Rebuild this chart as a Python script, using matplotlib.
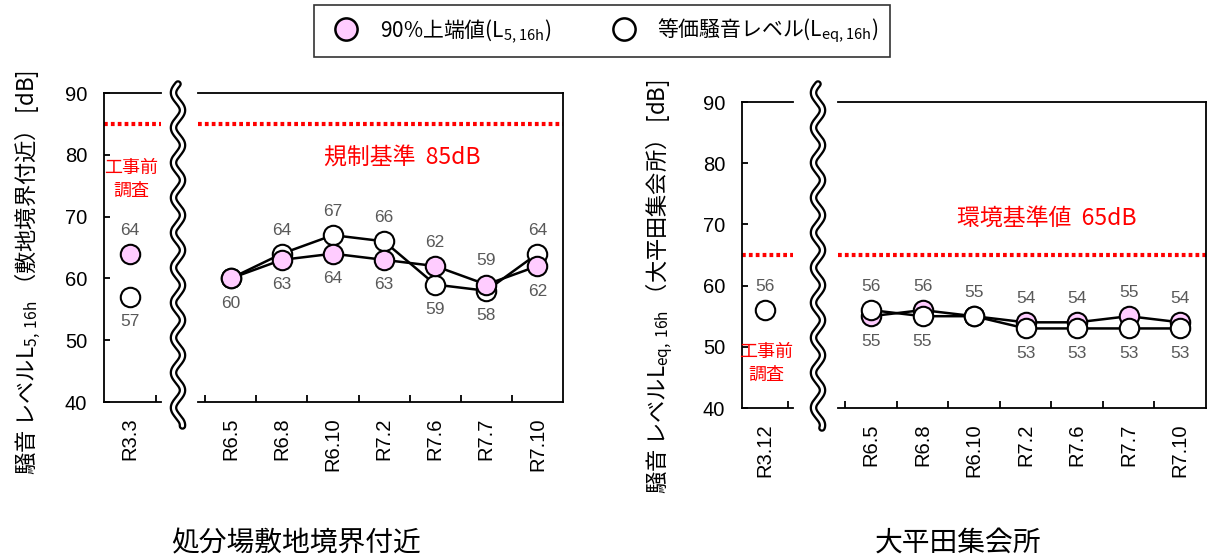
import matplotlib.pyplot as plt
import numpy as np
from matplotlib.lines import Line2D

plt.rcParams['font.family'] = ['Liberation Sans', 'Noto Sans CJK JP']

# データ
months = ['R6.5', 'R6.8', 'R6.10', 'R7.2', 'R7.6', 'R7.7', 'R7.10']
# 処分場敷地境界付近
a_pre = 'R3.3'
a_pre_l5 = 64
a_pre_leq = 57
a_l5 = [60, 63, 64, 63, 62, 59, 62]
a_leq = [60, 64, 67, 66, 59, 58, 64]
# 大平田集会所
b_pre = 'R3.12'
b_pre_l5 = None
b_pre_leq = 56
b_l5 = [55, 56, 55, 54, 54, 55, 54]
b_leq = [56, 55, 55, 53, 53, 53, 53]

W, H = 1208, 559
fig = plt.figure(figsize=(W/100, H/100), dpi=100)
JP = ['Noto Sans CJK JP']

def fx(px):
    return np.asarray(px)/W

def fy(py):
    return 1 - np.asarray(py)/H

PINK = '#ffccff'
GRAY = '#595959'
RED = '#ff0000'

def style_axis(ax):
    ax.set_ylim(40, 90)
    for s in ax.spines.values():
        s.set_linewidth(1.3)
    ax.tick_params(axis='both', direction='in', length=4, width=1.3, labelsize=14.5)
    ax.tick_params(axis='x', which='major', length=0, pad=11)
    ax.tick_params(axis='y', pad=12)
    ax.tick_params(axis='x', which='minor', direction='in', length=5, width=1.3)

def lab(ax, x, y, v, off):
    ax.annotate(str(v), (x, y), xytext=(0, off), textcoords='offset points',
                ha='center', va='center', fontsize=12.5, color=GRAY)

def add_labels(ax, xs, l5, leq, tie_above):
    for x, a, b in zip(xs, l5, leq):
        if a is None:
            lab(ax, x, b, b, 17)
        elif a == b:
            lab(ax, x, a, a, 17 if tie_above else -18)
        else:
            hi, lo = max(a, b), min(a, b)
            lab(ax, x, hi, hi, 17)
            lab(ax, x, lo, lo, -18)

def draw_series(ax, xs, vals, color, z, line=True):
    ax.plot(xs, vals, color='black', lw=1.8, marker='o', ms=14, mfc=color,
            mec='black', mew=1.5, zorder=z, clip_on=False,
            linestyle='-' if line else 'none')

def panel(small_box, main_box, pre, pre_l5, pre_leq, l5, leq, limit,
          limit_text, text_pos, pre_text_y, white_on_top, tie_above):
    axs = fig.add_axes(small_box)
    axm = fig.add_axes(main_box)
    for ax in (axs, axm):
        style_axis(ax)
        ax.axhline(limit, color=RED, lw=3, linestyle=(0, (0.9, 0.75)), zorder=1)
    # 工事前調査
    axs.set_xlim(-0.5, 0.6)
    axs.spines['right'].set_visible(False)
    axs.set_xticks([0], [pre], rotation=90)
    axs.set_xticks([0.5], minor=True)
    axs.set_yticks(range(40, 91, 10))
    zl5, zleq = (3, 4) if white_on_top else (4, 3)
    if pre_l5 is not None:
        draw_series(axs, [0], [pre_l5], PINK, zl5, line=False)
    draw_series(axs, [0], [pre_leq], 'white', zleq, line=False)
    add_labels(axs, [0], [pre_l5], [pre_leq], True)
    axs.text(0.02, pre_text_y, '工事前\n調査', color=RED, fontsize=13, ha='center',
             va='center', linespacing=1.3, family=JP)
    # 工事中
    xs = np.arange(len(months))
    axm.set_xlim(-0.64, 6.5)
    axm.spines['left'].set_visible(False)
    axm.set_yticks([])
    axm.set_xticks(xs, months, rotation=90)
    axm.set_xticks(np.arange(-0.5, 6, 1), minor=True)
    draw_series(axm, xs, l5, PINK, zl5)
    draw_series(axm, xs, leq, 'white', zleq)
    add_labels(axm, xs, l5, leq, tie_above)
    axm.text(text_pos[0], text_pos[1], limit_text, color=RED, fontsize=16.5,
             ha='center', va='center', transform=axm.transAxes, family=JP)

def box(x0, x1, y_top, y_bot):
    return [x0/W, 1 - y_bot/H, (x1 - x0)/W, (y_bot - y_top)/H]

panel(box(104, 161, 93, 402), box(198, 563, 93, 402), a_pre, a_pre_l5, a_pre_leq,
      a_l5, a_leq, 85, '規制基準  85dB', (0.559, 0.79), 76.0, False, False)
panel(box(742, 793, 102, 408), box(838, 1206, 102, 408), b_pre, b_pre_l5, b_pre_leq,
      b_l5, b_leq, 65, '環境基準値  65dB', (0.568, 0.62), 47.3, True, True)

# 波線 (軸の省略)
def wave(xc, y0, y1):
    y = np.linspace(y0, y1, 500)
    x = xc + 4.5*np.sin(2*np.pi*(y - y0)/35 + np.pi)
    fig.add_artist(Line2D(fx(x), fy(y), color='black', lw=5.5, transform=fig.transFigure,
                          solid_capstyle='round'))
    fig.add_artist(Line2D(fx(x), fy(y), color='white', lw=2.2, transform=fig.transFigure,
                          solid_capstyle='round'))

wave(178, 84, 426)
wave(818, 84, 428)

# 軸ラベル
fig.text(fx(28), fy(273), '騒音 レベルL$_\\mathregular{5,\\,16h}$ （敷地境界付近） [dB]',
         rotation=90, ha='center', va='center', fontsize=16, family=JP)
fig.text(fx(660), fy(287), '騒音 レベルL$_\\mathregular{eq,\\,16h}$ （大平田集会所） [dB]',
         rotation=90, ha='center', va='center', fontsize=16, family=JP)

# 地点名
fig.text(fx(296), fy(543), '処分場敷地境界付近', ha='center', va='center', fontsize=20,
         family=JP)
fig.text(fx(958), fy(543), '大平田集会所', ha='center', va='center', fontsize=20,
         family=JP)

# 凡例
handles = [Line2D([], [], linestyle='none', marker='o', ms=16, mfc=PINK, mec='black', mew=1.8),
           Line2D([], [], linestyle='none', marker='o', ms=16, mfc='white', mec='black', mew=1.8)]
leg = fig.legend(handles, ['90%上端値(L$_\\mathregular{5,16h}$)',
                           '等価騒音レベル(L$_\\mathregular{eq,16h}$)'],
                 loc='center', bbox_to_anchor=(fx(602), fy(31)), ncol=2, frameon=True,
                 fancybox=False, edgecolor='black', handletextpad=0.6,
                 columnspacing=2.5, borderpad=0.55, prop={'family': JP, 'size': 15})
leg.get_frame().set_linewidth(1.2)

fig.savefig('out.png', dpi=100)
